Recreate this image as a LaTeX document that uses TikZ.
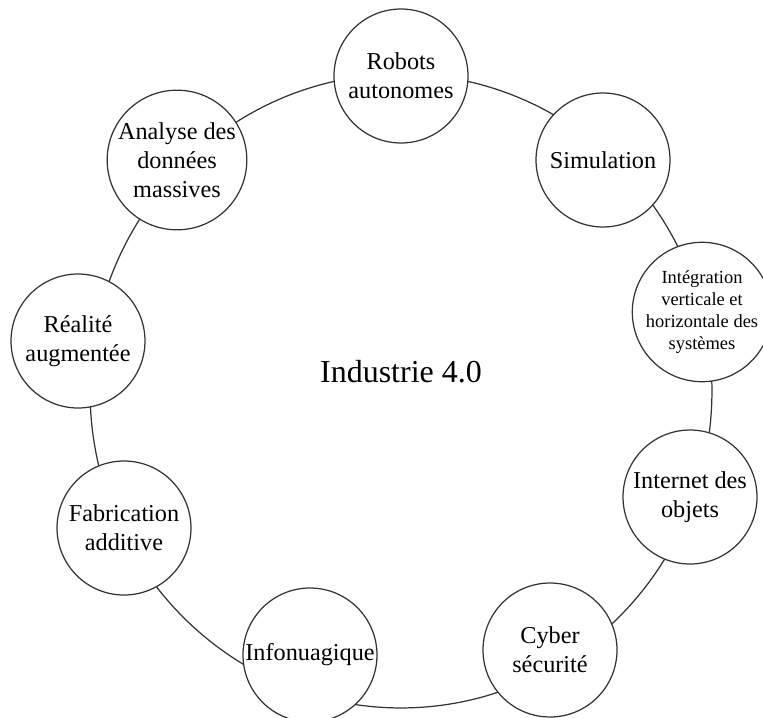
\documentclass[tikz,border=0pt]{standalone}
\usepackage{fontspec}
\setmainfont{Liberation Serif}
\usepackage{tikz}

\begin{document}
\begin{tikzpicture}[x=0.02cm,y=-0.02cm,
  main node/.style={circle,draw=black!80,line width=0.7pt,fill=white,minimum size=2.68cm,inner sep=0pt,align=center,font=\fontsize{13.8}{16.5}\selectfont},
  small node/.style={main node,font=\fontsize{10.5}{12.6}\selectfont},
  ring line/.style={draw=black!80,line width=0.7pt}]
  \useasboundingbox (0,0) rectangle (763,717);
  \clip (0,0) rectangle (763,717);
  \node[font=\fontsize{18.2}{20}\selectfont] (0) at (401,372) {Industrie 4.0};
  \coordinate (c) at (401,391);
  \draw[ring line] (c) ellipse [x radius=6.22cm, y radius=6.34cm];

  \node[main node] (1) at (401,76) {Robots\\autonomes};
  \node[main node] (2) at (603,160) {Simulation};
  \node[small node] (3) at (702,312) {Intégration\\verticale et\\horizontale des\\systèmes};
  \node[main node] (4) at (690,497) {Internet des\\objets};
  \node[main node] (5) at (550,650) {Cyber\\sécurité};
  \node[main node] (6) at (310,655) {Infonuagique};
  \node[main node] (7) at (124,528) {Fabrication\\additive};
  \node[main node] (8) at (78,341) {Réalité\\augmentée};
  \node[main node] (9) at (177,160) {Analyse des\\données\\massives};
\end{tikzpicture}
\end{document}
